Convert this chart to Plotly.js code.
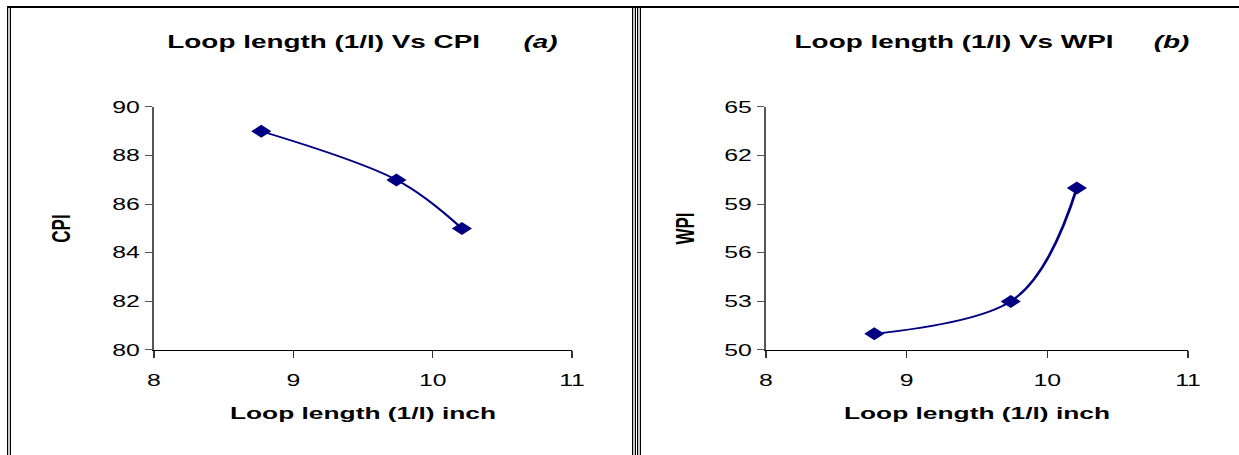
<!DOCTYPE html>
<html>
<head>
<meta charset="utf-8">
<script src="https://cdn.plot.ly/plotly-3.0.1.min.js"></script>
<style>
  html, body { margin:0; padding:0; width:1239px; height:455px; overflow:hidden; background:#fff; }
  #wrap { position:absolute; left:0; top:0; width:800px; height:455px; transform:scaleX(1.54875); transform-origin:0 0; }
  #chart { width:800px; height:455px; }
  .b { position:absolute; }
</style>
</head>
<body>
<div id="wrap"><div id="chart"></div></div>
<!-- panel frame -->
<div class="b" style="left:7px;top:6px;width:1232px;height:2px;background:#000;"></div>
<div class="b" style="left:7px;top:7px;width:1px;height:448px;background:#000;"></div>
<div class="b" style="left:8px;top:8px;width:2px;height:447px;background:#c8c8c8;"></div>
<div class="b" style="left:10px;top:8px;width:1px;height:447px;background:#000;"></div>
<div class="b" style="left:632px;top:7px;width:1px;height:448px;background:#000;"></div>
<div class="b" style="left:633px;top:8px;width:2px;height:447px;background:#c8c8c8;"></div>
<div class="b" style="left:635px;top:8px;width:1px;height:447px;background:#000;"></div>
<div class="b" style="left:637px;top:7px;width:1px;height:448px;background:#000;"></div>
<div class="b" style="left:638px;top:8px;width:2px;height:447px;background:#c8c8c8;"></div>
<div class="b" style="left:640px;top:8px;width:1px;height:447px;background:#000;"></div>
<script>
// ---- data ----
const loopLength = [8.77, 9.74, 10.21];
const cpi = [89, 87, 85];
const wpi = [51, 53, 60];
const titleA = "Loop length (1/l) Vs CPI";
const titleB = "Loop length (1/l) Vs WPI";
const xTitle = "Loop length (1/l) inch";

const FONT = "Liberation Sans, Arial, sans-serif";
const NAVY = "#000080";

const traceStyle = {
  type: "scatter",
  mode: "lines+markers",
  line: { color: NAVY, width: 1.8, shape: "spline", smoothing: 1 },
  marker: { symbol: "diamond", size: 10, color: NAVY },
  showlegend: false,
  hoverinfo: "x+y"
};

const data = [
  Object.assign({}, traceStyle, { x: loopLength, y: cpi, xaxis: "x", yaxis: "y" }),
  Object.assign({}, traceStyle, { x: loopLength, y: wpi, xaxis: "x2", yaxis: "y2" })
];

function xAxis(dom, anchor) {
  return {
    domain: dom, anchor: anchor, range: [8, 11], dtick: 1, tick0: 8,
    showgrid: false, zeroline: false, showline: true, linecolor: "#000", linewidth: 1,
    ticks: "outside", ticklen: 7, tickcolor: "#333", tickwidth: 1,
    ticklabelstandoff: 9,
    tickfont: { family: FONT, size: 16, color: "#000" },
    title: { text: xTitle, standoff: 18, font: { family: FONT, size: 17, color: "#000", weight: "bold" } }
  };
}
function yAxis(dom, anchor, range, dtick, label, standoff) {
  return {
    domain: dom, anchor: anchor, range: range, dtick: dtick, tick0: range[0],
    showgrid: false, zeroline: false, showline: true, linecolor: "#555", linewidth: 1,
    ticks: "outside", ticklen: 5, tickcolor: "#555", tickwidth: 1,
    tickfont: { family: FONT, size: 16, color: "#000" },
    title: { text: label, standoff: standoff, font: { family: FONT, size: 17, color: "#000", weight: "bold" } }
  };
}

const yDom = [0.23077, 0.76484];
const layout = {
  width: 800, height: 455,
  margin: { l: 0, r: 0, t: 0, b: 0 },
  paper_bgcolor: "#fff", plot_bgcolor: "#fff",
  xaxis: xAxis([0.12427, 0.46166], "y"),
  yaxis: yAxis(yDom, "x", [80, 90], 2, "CPI", 22),
  xaxis2: xAxis([0.61823, 0.95884], "y2"),
  yaxis2: yAxis(yDom, "x2", [50, 65], 3, "WPI", 14),
  annotations: [
    { text: titleA, xref: "paper", yref: "paper", x: 0.2615, y: 0.9077, xanchor: "center", yanchor: "middle",
      showarrow: false, font: { family: FONT, size: 18, color: "#000", weight: "bold" } },
    { text: "(a)", xref: "paper", yref: "paper", x: 0.4366, y: 0.9077, xanchor: "center", yanchor: "middle",
      showarrow: false, font: { family: FONT, size: 18, color: "#000", style: "italic", weight: "bold" } },
    { text: titleB, xref: "paper", yref: "paper", x: 0.7706, y: 0.9077, xanchor: "center", yanchor: "middle",
      showarrow: false, font: { family: FONT, size: 18, color: "#000", weight: "bold" } },
    { text: "(b)", xref: "paper", yref: "paper", x: 0.9459, y: 0.9077, xanchor: "center", yanchor: "middle",
      showarrow: false, font: { family: FONT, size: 18, color: "#000", style: "italic", weight: "bold" } }
  ]
};

Plotly.newPlot("chart", data, layout, { staticPlot: true, displayModeBar: false });
</script>
</body>
</html>
